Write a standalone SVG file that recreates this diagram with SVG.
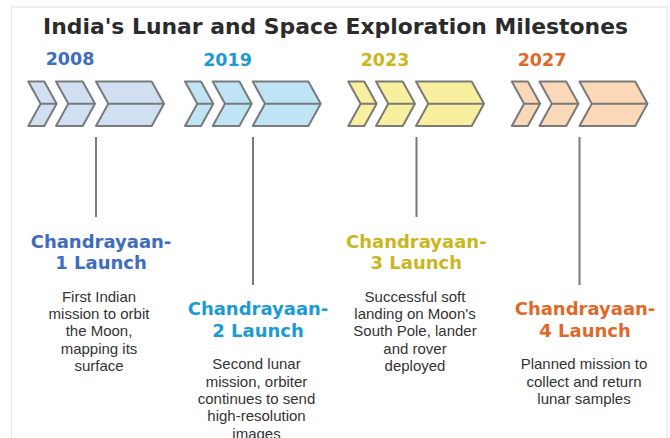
<svg xmlns="http://www.w3.org/2000/svg" xmlns:xlink="http://www.w3.org/1999/xlink" width="670" height="438" viewBox="0 0 670 438">
  <style>
    .title { font-family: "DejaVu Sans", "Liberation Sans", sans-serif; font-weight: bold; font-size: 21.5px; fill: #2b2b2b; text-anchor: middle; }
    .year { font-family: "DejaVu Sans", "Liberation Sans", sans-serif; font-weight: bold; font-size: 17.5px; text-anchor: middle; }
    .head { font-family: "DejaVu Sans", "Liberation Sans", sans-serif; font-weight: bold; font-size: 18px; text-anchor: middle; }
    .desc { font-family: "Liberation Sans", "DejaVu Sans", sans-serif; font-size: 15px; fill: #333333; text-anchor: middle; }
    .chev { stroke: #7a7a7a; stroke-width: 2; stroke-linejoin: round; }
    .conn { stroke: #7a7a7a; stroke-width: 2; fill: none; }
    .c1 { fill: #3d6cc0; }
    .c2 { fill: #1b9bd6; }
    .c3 { fill: #c9b620; }
    .c4 { fill: #e0692a; }
  </style>
  <defs>
    <path id="chevrons" d="M0,81.5 H16 L28.3,103.75 L16,126 H0 L12.3,103.75 Z M12.3,103.75 H28.3 M27.7,81.5 H54.4 L66.7,103.75 L54.4,126 H27.7 L40,103.75 Z M40,103.75 H66.7 M67.7,81.5 H123.4 L135.7,103.75 L123.4,126 H67.7 L80,103.75 Z M80,103.75 H135.7"/>
  </defs>
  <rect x="0" y="0" width="670" height="438" fill="#ffffff"/>
  <rect x="11.5" y="7" width="655.5" height="440" fill="#ffffff" stroke="#e6e6e6" stroke-width="1.2"/>
  <text class="title" x="335.5" y="34" textLength="585" lengthAdjust="spacingAndGlyphs">India's Lunar and Space Exploration Milestones</text>

  <g id="connectors">
    <line class="conn" x1="96" y1="137" x2="96" y2="217"/>
    <line class="conn" x1="253" y1="137" x2="253" y2="285"/>
    <line class="conn" x1="416.5" y1="137" x2="416.5" y2="217"/>
    <line class="conn" x1="579.5" y1="137" x2="579.5" y2="285"/>
  </g>

  <g id="milestone-2008">
    <text class="year c1" x="70" y="65">2008</text>
    <use xlink:href="#chevrons" href="#chevrons" class="chev" fill="#d0e0f2" transform="translate(28.3,0)"/>
  </g>
  <g id="milestone-2019">
    <text class="year c2" x="227.5" y="65.5">2019</text>
    <use xlink:href="#chevrons" href="#chevrons" class="chev" fill="#bfe4f5" transform="translate(185,0)"/>
  </g>
  <g id="milestone-2023">
    <text class="year c3" x="385" y="65.5">2023</text>
    <use xlink:href="#chevrons" href="#chevrons" class="chev" fill="#f8f09e" transform="translate(348.3,0)"/>
  </g>
  <g id="milestone-2027">
    <text class="year c4" x="542" y="65.5">2027</text>
    <use xlink:href="#chevrons" href="#chevrons" class="chev" fill="#fbd8b7" transform="translate(511.8,0)"/>
  </g>

  <g id="label-chandrayaan-1">
    <text class="head c1" x="101" y="248.3">Chandrayaan-</text>
    <text class="head c1" x="101" y="269.3">1 Launch</text>
    <text class="desc" x="99" y="301.7">First Indian</text>
    <text class="desc" x="99" y="319">mission to orbit</text>
    <text class="desc" x="99" y="336.3">the Moon,</text>
    <text class="desc" x="99" y="353.6">mapping its</text>
    <text class="desc" x="99" y="370.9">surface</text>
  </g>
  <g id="label-chandrayaan-2">
    <text class="head c2" x="258" y="315">Chandrayaan-</text>
    <text class="head c2" x="258" y="336.7">2 Launch</text>
    <text class="desc" x="256.5" y="369.3">Second lunar</text>
    <text class="desc" x="256.5" y="386.6">mission, orbiter</text>
    <text class="desc" x="256.5" y="403.9">continues to send</text>
    <text class="desc" x="256.5" y="421.2">high-resolution</text>
    <text class="desc" x="256.5" y="438.5">images</text>
  </g>
  <g id="label-chandrayaan-3">
    <text class="head c3" x="416.3" y="248.3">Chandrayaan-</text>
    <text class="head c3" x="416.3" y="269.3">3 Launch</text>
    <text class="desc" x="415" y="301.7">Successful soft</text>
    <text class="desc" x="415" y="319">landing on Moon's</text>
    <text class="desc" x="415" y="336.3">South Pole, lander</text>
    <text class="desc" x="415" y="353.6">and rover</text>
    <text class="desc" x="415" y="370.9">deployed</text>
  </g>
  <g id="label-chandrayaan-4">
    <text class="head c4" x="585" y="315">Chandrayaan-</text>
    <text class="head c4" x="585" y="336.7">4 Launch</text>
    <text class="desc" x="584" y="369.3">Planned mission to</text>
    <text class="desc" x="584" y="386.6">collect and return</text>
    <text class="desc" x="584" y="403.9">lunar samples</text>
  </g>
</svg>
